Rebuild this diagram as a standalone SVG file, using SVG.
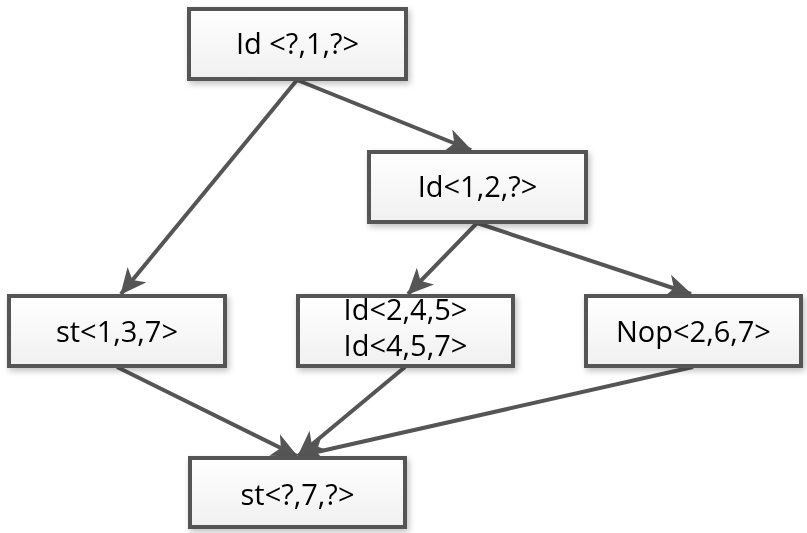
<svg xmlns="http://www.w3.org/2000/svg" width="807" height="533" viewBox="0 0 807 533">
  <defs>
    <linearGradient id="boxFill" x1="0" y1="0" x2="0" y2="1">
      <stop offset="0" stop-color="#ffffff"/>
      <stop offset="1" stop-color="#f0f0f0"/>
    </linearGradient>
    <filter id="shadow" x="-10%" y="-10%" width="130%" height="140%">
      <feGaussianBlur in="SourceAlpha" stdDeviation="3"/>
      <feOffset dx="2" dy="3" result="b"/>
      <feComponentTransfer><feFuncA type="linear" slope="0.25"/></feComponentTransfer>
      <feMerge><feMergeNode/><feMergeNode in="SourceGraphic"/></feMerge>
    </filter>
    <marker id="arrow" markerUnits="userSpaceOnUse" viewBox="0 0 26 24" refX="25" refY="12" markerWidth="26" markerHeight="24" orient="auto">
      <path d="M0,0 L26,12 L0,24 L7,12 Z" fill="#555555"/>
    </marker>
  </defs>
  <style>
    .box { fill: url(#boxFill); stroke: #555555; stroke-width: 4; }
    .label { font-family: "Open Sans", "Noto Sans", sans-serif; font-size: 29px; fill: #000000; text-anchor: middle; }
    .edge { stroke: #555555; stroke-width: 4; fill: none; marker-end: url(#arrow); }
  </style>
  <rect width="807" height="533" fill="#ffffff"/>

  <g id="connectors">
    <line class="edge" x1="297" y1="80" x2="121" y2="294"/>
    <line class="edge" x1="297" y1="80" x2="471" y2="150"/>
    <line class="edge" x1="477" y1="223" x2="408" y2="294"/>
    <line class="edge" x1="477" y1="223" x2="691" y2="294"/>
    <line class="edge" x1="117" y1="367" x2="297" y2="456"/>
    <line class="edge" x1="405" y1="367" x2="298" y2="456"/>
    <line class="edge" x1="693" y1="367" x2="299" y2="456"/>
  </g>

  <g id="node-top" filter="url(#shadow)">
    <rect class="box" x="189" y="9" width="217" height="70"/>
    <text class="label" x="297.5" y="54">Id &lt;?,1,?&gt;</text>
  </g>
  <g id="node-id12" filter="url(#shadow)">
    <rect class="box" x="369" y="152" width="217" height="70"/>
    <text class="label" x="477.5" y="197">Id&lt;1,2,?&gt;</text>
  </g>
  <g id="node-st137" filter="url(#shadow)">
    <rect class="box" x="9" y="296" width="216" height="70"/>
    <text class="label" x="117" y="342">st&lt;1,3,7&gt;</text>
  </g>
  <g id="node-id245" filter="url(#shadow)">
    <rect class="box" x="298" y="296" width="215" height="70"/>
    <text class="label" x="405.5" y="320">Id&lt;2,4,5&gt;</text>
    <text class="label" x="405.5" y="356">Id&lt;4,5,7&gt;</text>
  </g>
  <g id="node-nop" filter="url(#shadow)">
    <rect class="box" x="586" y="296" width="215" height="70"/>
    <text class="label" x="693.5" y="342">Nop&lt;2,6,7&gt;</text>
  </g>
  <g id="node-st7" filter="url(#shadow)">
    <rect class="box" x="190" y="458" width="215" height="69"/>
    <text class="label" x="297.5" y="505">st&lt;?,7,?&gt;</text>
  </g>
</svg>
